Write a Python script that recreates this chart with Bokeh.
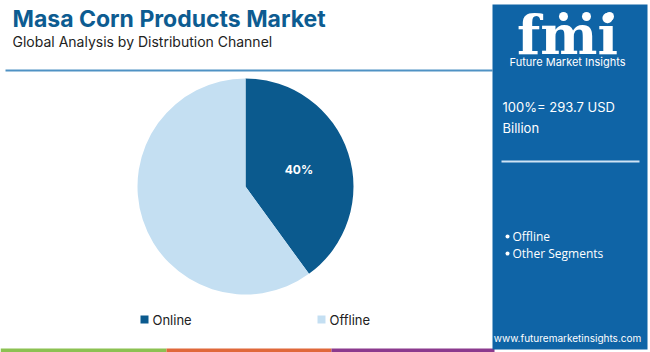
import math
from bokeh.plotting import figure
from bokeh.models import Range1d
from bokeh.core.properties import value
from bokeh.embed import file_html
from bokeh.resources import INLINE

# ---- data ----
categories = ["Online", "Offline"]
shares = [40, 60]
colors = ["#0b5a8e", "#c4dff2"]
shown_labels = ["40%", ""]
title = "Masa Corn Products Market"
subtitle = "Global Analysis by Distribution Channel"
total_text = ["100%= 293.7 USD", "Billion"]
bullets = ["Offline", "Other Segments"]

W, H = 650, 352
def Y(py):
    return H - py

p = figure(width=W, height=H, x_range=Range1d(0, W), y_range=Range1d(0, H),
           x_axis_location=None, y_axis_location=None, toolbar_location=None,
           min_border=0, output_backend="svg")
p.grid.visible = False
p.outline_line_color = None
p.background_fill_color = "white"
p.border_fill_color = "white"

# title
p.text(x=[12], y=[Y(18)], text=[title], text_font=value("Inter"), text_font_style="bold",
       text_font_size="23px", text_color="#0d5c91", text_baseline="middle", text_align="left")
p.text(x=[12], y=[Y(41)], text=[subtitle], text_font=value("Inter"),
       text_font_size="14px", text_color="#222222", text_baseline="middle", text_align="left")
p.segment(x0=[5], y0=[Y(70)], x1=[492], y1=[Y(70)], line_color="#4f92c4", line_width=2)

# pie
cx, cy, r = 245, 186, 108
total = sum(shares)
start = math.pi / 2
starts, ends = [], []
for s in shares:
    a = 2 * math.pi * s / total
    ends.append(start)
    starts.append(start - a)
    start -= a
p.wedge(x=[cx] * len(shares), y=[Y(cy)] * len(shares), radius=r,
        start_angle=starts, end_angle=ends, fill_color=colors, line_color=None)
for st, en, lab in zip(starts, ends, shown_labels):
    if not lab:
        continue
    m = (st + en) / 2
    p.text(x=[cx + 0.52 * r * math.cos(m)], y=[Y(cy) + 0.52 * r * math.sin(m)], text=[lab],
           text_font=value("Inter"), text_font_style="bold", text_font_size="12px",
           text_color="white", text_align="center", text_baseline="middle")

# legend
leg_x = [140, 317]
for lx, c, name in zip(leg_x, colors, categories):
    p.rect(x=[lx + 4], y=[Y(319)], width=8, height=8, fill_color=c, line_color=None)
    p.text(x=[lx + 12], y=[Y(319)], text=[name], text_font=value("Inter"),
           text_font_size="13px", text_color="#222222", text_baseline="middle")

# bottom stripes
for x0, x1, c in [(0, 166, "#8cc152"), (166, 331, "#e0683a"), (331, 494, "#8b3a8e")]:
    p.quad(left=[x0], right=[x1], bottom=[0], top=[Y(348)], fill_color=c, line_color=None)

# right panel
p.quad(left=[492], right=[647], bottom=[Y(349)], top=[Y(4)], fill_color="#0f64a6", line_color=None)
p.text(x=[567], y=[Y(34)], text=["fmi"], text_font=value("DejaVu Serif"), text_font_style="bold",
       text_font_size="54px", text_color="white", text_align="center", text_baseline="middle")
for gx in [563, 586, 609]:
    p.scatter(x=[gx], y=[Y(16)], size=9, fill_color="white", line_color=None)
p.text(x=[567], y=[Y(61)], text=["Future Market Insights"], text_font=value("Inter"),
       text_font_size="11px", text_color="white", text_align="center", text_baseline="middle")
p.text(x=[502], y=[Y(106)], text=[total_text[0]], text_font=value("Inter"),
       text_font_size="13px", text_color="white", text_baseline="middle")
p.text(x=[502], y=[Y(127)], text=[total_text[1]], text_font=value("Inter"),
       text_font_size="13px", text_color="white", text_baseline="middle")
p.segment(x0=[501], y0=[Y(161)], x1=[639], y1=[Y(161)], line_color="#cfe3f5", line_width=2)
for i, b in enumerate(bullets):
    yy = Y(236 + 17 * i)
    p.scatter(x=[507], y=[yy], size=4, fill_color="white", line_color=None)
    p.text(x=[512], y=[yy], text=[b], text_font=value("Open Sans"),
           text_font_size="12px", text_color="white", text_baseline="middle")
p.text(x=[567], y=[Y(337)], text=["www.futuremarketinsights.com"], text_font=value("Inter"),
       text_font_size="10px", text_color="white", text_align="center", text_baseline="middle")

open("out.html", "w").write(file_html(p, INLINE))
